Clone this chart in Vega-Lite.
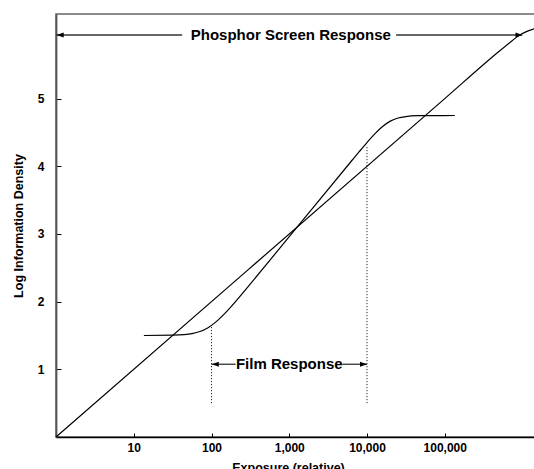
{
  "$schema": "https://vega.github.io/schema/vega-lite/v6.json",
  "width": 480,
  "height": 423,
  "autosize": {"type": "none"},
  "padding": {"left": 56, "top": 14, "right": 0, "bottom": 32},
  "background": "white",
  "config": {
    "font": "Liberation Sans",
    "view": {"stroke": "#666", "strokeWidth": 1.5},
    "axis": {
      "grid": false,
      "labelFont": "Liberation Sans",
      "labelFontWeight": "bold",
      "labelFontSize": 12,
      "labelColor": "black",
      "titleFont": "Liberation Sans",
      "titleFontWeight": "bold",
      "titleFontSize": 12.5,
      "titleColor": "black",
      "tickColor": "black",
      "tickWidth": 1
    }
  },
  "datasets": {
    "phosphor": [
      {"x": 1, "y": 0},
      {"x": 100000, "y": 5},
      {"x": 501187, "y": 5.7},
      {"x": 707946, "y": 5.84},
      {"x": 891251, "y": 5.93},
      {"x": 1122018, "y": 5.99},
      {"x": 1479108, "y": 6.04}
    ],
    "film": [
      {"x": 13.5, "y": 1.5},
      {"x": 31.6, "y": 1.504},
      {"x": 44.7, "y": 1.5125},
      {"x": 56.2, "y": 1.528},
      {"x": 70.8, "y": 1.558},
      {"x": 89.1, "y": 1.612},
      {"x": 112.2, "y": 1.694},
      {"x": 141.3, "y": 1.801},
      {"x": 177.8, "y": 1.924},
      {"x": 223.9, "y": 2.056},
      {"x": 316.2, "y": 2.262},
      {"x": 1259, "y": 3.1},
      {"x": 6310, "y": 4.078},
      {"x": 7943, "y": 4.216},
      {"x": 10000, "y": 4.351},
      {"x": 12589, "y": 4.478},
      {"x": 15849, "y": 4.587},
      {"x": 19953, "y": 4.667},
      {"x": 25119, "y": 4.713},
      {"x": 31623, "y": 4.735},
      {"x": 44668, "y": 4.747},
      {"x": 63096, "y": 4.749},
      {"x": 134900, "y": 4.75}
    ],
    "dotted": [
      {"x": 100, "y": 0.5, "y2": 1.64},
      {"x": 10000, "y": 0.5, "y2": 4.3}
    ],
    "segments": [
      {"x": 1, "x2": 41.9, "y": 5.94},
      {"x": 23700, "x2": 990000, "y": 5.94},
      {"x": 100, "x2": 204, "y": 1.075},
      {"x": 4830, "x2": 10000, "y": 1.075}
    ],
    "heads": [
      {"x": 1.02, "y": 5.94, "d": "L"},
      {"x": 1000000, "y": 5.94, "d": "R"},
      {"x": 101, "y": 1.075, "d": "L"},
      {"x": 10000, "y": 1.075, "d": "R"}
    ],
    "labels": [
      {"x": 1047, "y": 5.94, "text": "Phosphor Screen Response"},
      {"x": 1000, "y": 1.075, "text": "Film Response"}
    ]
  },
  "encoding": {
    "x": {
      "field": "x",
      "type": "quantitative",
      "scale": {"type": "log", "domain": [1, 1491500], "nice": false},
      "axis": {
        "values": [10, 100, 1000, 10000, 100000],
        "format": ",",
        "tickSize": -4,
        "labelPadding": 9,
        "domainColor": "black",
        "domainWidth": 1.5,
        "title": "Exposure (relative)",
        "titleX": 232,
        "titleY": 34,
        "titleAlign": "center",
        "titleBaseline": "alphabetic"
      }
    },
    "y": {
      "field": "y",
      "type": "quantitative",
      "scale": {"domain": [0, 6.25], "nice": false, "zero": false},
      "axis": {
        "values": [1, 2, 3, 4, 5],
        "tickSize": -5,
        "labelPadding": 17,
        "domainColor": "#555",
        "domainWidth": 1.8,
        "title": "Log Information Density",
        "titleX": -34,
        "titleBaseline": "alphabetic"
      }
    }
  },
  "layer": [
    {
      "data": {"name": "phosphor"},
      "mark": {"type": "line", "color": "black", "strokeWidth": 1.2, "interpolate": "monotone"}
    },
    {
      "data": {"name": "film"},
      "mark": {"type": "line", "color": "black", "strokeWidth": 1.2, "interpolate": "monotone"}
    },
    {
      "data": {"name": "dotted"},
      "mark": {"type": "rule", "color": "black", "strokeWidth": 1, "strokeDash": [1, 2]},
      "encoding": {"y2": {"field": "y2"}}
    },
    {
      "data": {"name": "segments"},
      "mark": {"type": "rule", "color": "#333", "strokeWidth": 1.3},
      "encoding": {"x2": {"field": "x2"}}
    },
    {
      "data": {"name": "heads"},
      "mark": {"type": "point", "filled": true, "color": "black", "opacity": 1, "size": 49, "strokeWidth": 0},
      "encoding": {
        "shape": {
          "field": "d",
          "type": "nominal",
          "scale": {"domain": ["L", "R"], "range": ["M0,0L2,-0.7L2,0.7Z", "M0,0L-2,-0.7L-2,0.7Z"]},
          "legend": null
        }
      }
    },
    {
      "data": {"name": "labels"},
      "mark": {"type": "text", "font": "Liberation Sans", "fontWeight": "bold", "fontSize": 15, "align": "center", "baseline": "middle", "color": "black"},
      "encoding": {"text": {"field": "text", "type": "nominal"}}
    }
  ]
}
